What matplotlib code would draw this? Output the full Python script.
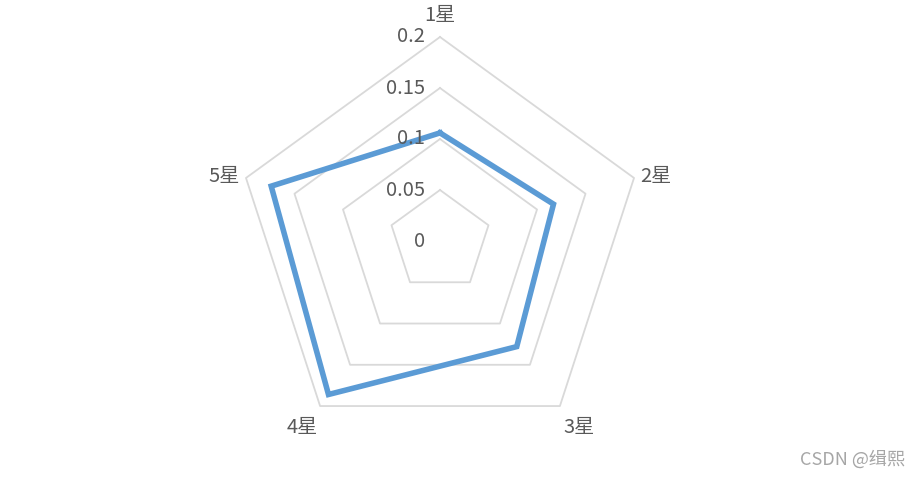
import numpy as np
import matplotlib
matplotlib.use("Agg")
import matplotlib.pyplot as plt

plt.rcParams['font.family'] = ['Noto Sans CJK SC', 'DejaVu Sans']

categories = ["1星", "2星", "3星", "4星", "5星"]
values = [0.106, 0.117, 0.128, 0.186, 0.174]
ticks = [0.05, 0.1, 0.15, 0.2]
tick_labels = ["0", "0.05", "0.1", "0.15", "0.2"]

W, H, DPI = 920, 479, 100
cx, cy = 440, 241
scale = 1020.0  # px per unit

fig = plt.figure(figsize=(W / DPI, H / DPI), dpi=DPI)
ax = fig.add_axes([0, 0, 1, 1])
ax.set_xlim(-cx / scale, (W - cx) / scale)
ax.set_ylim(-(H - cy) / scale, cy / scale)
ax.axis('off')

n = len(categories)
theta = np.arange(n) * 2 * np.pi / n

def xy(r, th):
    return r * np.sin(th), r * np.cos(th)

# grid pentagons
for t in ticks:
    x, y = xy(np.full(n + 1, t), np.append(theta, theta[0]))
    ax.plot(x, y, color='#D9D9D9', lw=1.3, zorder=1)

# data
vals = np.array(values + values[:1])
x, y = xy(vals, np.append(theta, theta[0]))
ax.plot(x, y, color='#5B9BD5', lw=4.0, solid_joinstyle='miter', zorder=3)

# tick labels
for i, lab in enumerate(tick_labels):
    r = i * 0.05
    ax.text(-15 / scale, r + 0 / scale, lab, ha='right', va='center',
            fontsize=14.5, color='#595959', zorder=4)

# category labels
has = ['center', 'left', 'center', 'center', 'right']
for th, cat, ha in zip(theta, categories, has):
    px, py = xy(0.2, th)
    if cat == "3星":
        px, py = px + 19 / scale, py - 21 / scale
    elif cat == "4星":
        px, py = px - 18 / scale, py - 21 / scale
    elif cat == "2星":
        px, py = px + 6 / scale, py + 1 / scale
    elif cat == "5星":
        px, py = px - 6 / scale, py + 1 / scale
    else:
        px, py = px, py + 22 / scale
    ax.text(px, py, cat, ha=ha, va='center', fontsize=14.5, color='#595959')

fig.text(905 / W, 1 - 459 / H, "CSDN @缉熙", ha='right', va='center',
         fontsize=13, color='#A6A6A6')

fig.savefig("out.png", dpi=DPI, facecolor='white')
